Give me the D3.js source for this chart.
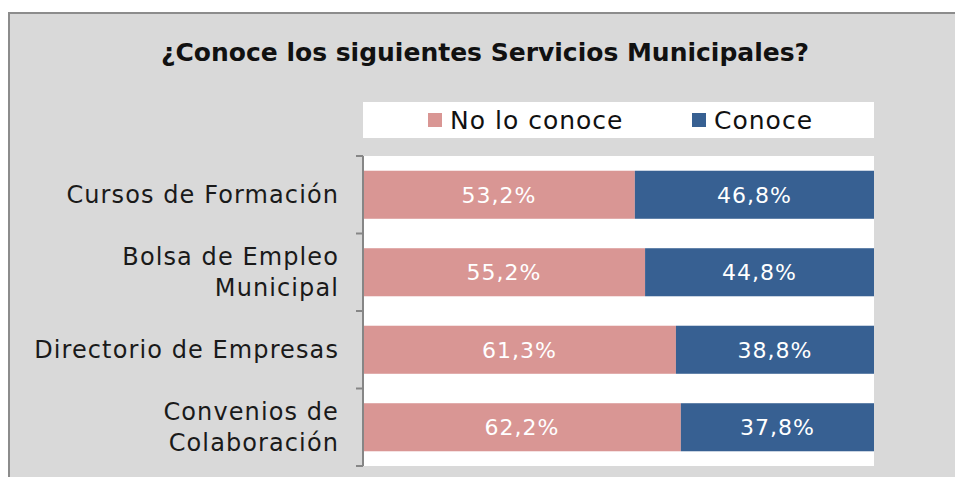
<!DOCTYPE html>
<html>
<head>
<meta charset="utf-8">
<script src="https://cdn.jsdelivr.net/npm/d3@7"></script>
<style>
  html, body { margin: 0; padding: 0; background: #fff; }
  svg { display: block; font-family: "DejaVu Sans", sans-serif; }
  .cat-label { font-size: 24px; fill: #1a1a1a; letter-spacing: 1.1px; }
  .bar-label { font-size: 22px; fill: #fff; letter-spacing: 1px; }
  .legend-text { font-size: 25px; fill: #111; letter-spacing: 1px; }
  .title { font-size: 25px; font-weight: bold; fill: #111; }
</style>
</head>
<body>
<svg id="chart"></svg>
<script>
// ── DATA ──────────────────────────────────────────────────────────────────
const categories = [
  ["Cursos de Formación"],
  ["Bolsa de Empleo", "Municipal"],
  ["Directorio de Empresas"],
  ["Convenios de", "Colaboración"],
];
const noConoce = [53.2, 55.2, 61.3, 62.2];
const conoce = [46.8, 44.8, 38.8, 37.8];
const seriesNames = ["No lo conoce", "Conoce"];
const seriesColors = ["#d99694", "#376092"];

const width = 955, height = 477;
const svg = d3.select("#chart").attr("width", width).attr("height", height);

// chart frame
svg.append("rect")
  .attr("x", 9).attr("y", 13)
  .attr("width", width).attr("height", height)
  .attr("fill", "#d9d9d9")
  .attr("stroke", "#8c8c8c")
  .attr("stroke-width", 2);

svg.append("text")
  .attr("class", "title")
  .attr("x", 485).attr("y", 61)
  .attr("text-anchor", "middle")
  .text("¿Conoce los siguientes Servicios Municipales?");

// plot area
const plot = { left: 363, right: 874, top: 156, bottom: 466 };

const keys = categories.map((d, i) => i);
const rows = keys.map((i) => ({ key: i, a: noConoce[i], b: conoce[i] }));
const stack = d3.stack().keys(["a", "b"]).offset(d3.stackOffsetExpand);
const stacked = stack(rows);

const xScale = d3.scaleLinear().domain([0, 1]).range([plot.left, plot.right]);
const yScale = d3.scaleBand()
  .domain(keys)
  .range([plot.top, plot.bottom])
  .paddingInner(0.38)
  .paddingOuter(0.19);

svg.append("rect")
  .attr("x", plot.left).attr("y", plot.top)
  .attr("width", plot.right - plot.left)
  .attr("height", plot.bottom - plot.top)
  .attr("fill", "#fff");

// bars
const layers = svg.append("g").selectAll("g")
  .data(stacked)
  .join("g")
  .attr("fill", (d, i) => seriesColors[i]);

layers.selectAll("rect")
  .data((d) => d)
  .join("rect")
  .attr("x", (d) => xScale(d[0]))
  .attr("y", (d) => yScale(d.data.key))
  .attr("width", (d) => xScale(d[1]) - xScale(d[0]))
  .attr("height", yScale.bandwidth());

// value labels
const values = [noConoce, conoce];
stacked.forEach((layer, li) => {
  svg.append("g").selectAll("text")
    .data(layer)
    .join("text")
    .attr("class", "bar-label")
    .attr("x", (d) => (xScale(d[0]) + xScale(d[1])) / 2)
    .attr("y", (d) => yScale(d.data.key) + yScale.bandwidth() / 2)
    .attr("dy", "0.36em")
    .attr("text-anchor", "middle")
    .text((d, i) => values[li][i].toFixed(1).replace(".", ",") + "%");
});

// category axis: line + ticks at band boundaries
const step = (plot.bottom - plot.top) / categories.length;
const axis = svg.append("g").attr("stroke", "#868686").attr("stroke-width", 2);
axis.append("line")
  .attr("x1", plot.left).attr("x2", plot.left)
  .attr("y1", plot.top).attr("y2", plot.bottom);
axis.selectAll("line.tick")
  .data(d3.range(categories.length + 1))
  .join("line")
  .attr("class", "tick")
  .attr("x1", plot.left - 7).attr("x2", plot.left)
  .attr("y1", (d) => plot.top + d * step)
  .attr("y2", (d) => plot.top + d * step);

// category labels
const catLabels = svg.append("g").selectAll("text")
  .data(categories)
  .join("text")
  .attr("class", "cat-label")
  .attr("text-anchor", "end")
  .attr("x", 339)
  .attr("y", (d, i) => yScale(i) + yScale.bandwidth() / 2);
catLabels.selectAll("tspan")
  .data((d) => d.map((t, j) => ({ t, j, n: d.length })))
  .join("tspan")
  .attr("x", 339)
  .attr("dy", (d) => (d.j === 0 ? `${0.36 - (d.n - 1) * 0.65}em` : "1.3em"))
  .text((d) => d.t);

// legend
svg.append("rect")
  .attr("x", plot.left).attr("y", 102)
  .attr("width", plot.right - plot.left).attr("height", 36)
  .attr("fill", "#fff");
const legendX = [428, 692];
const legend = svg.append("g").selectAll("g")
  .data(seriesNames)
  .join("g")
  .attr("transform", (d, i) => `translate(${legendX[i]},113)`);
legend.append("rect")
  .attr("width", 14).attr("height", 14)
  .attr("fill", (d, i) => seriesColors[i]);
legend.append("text")
  .attr("class", "legend-text")
  .attr("x", 22).attr("y", 7)
  .attr("dy", "0.36em")
  .text((d) => d);
</script>
</body>
</html>
